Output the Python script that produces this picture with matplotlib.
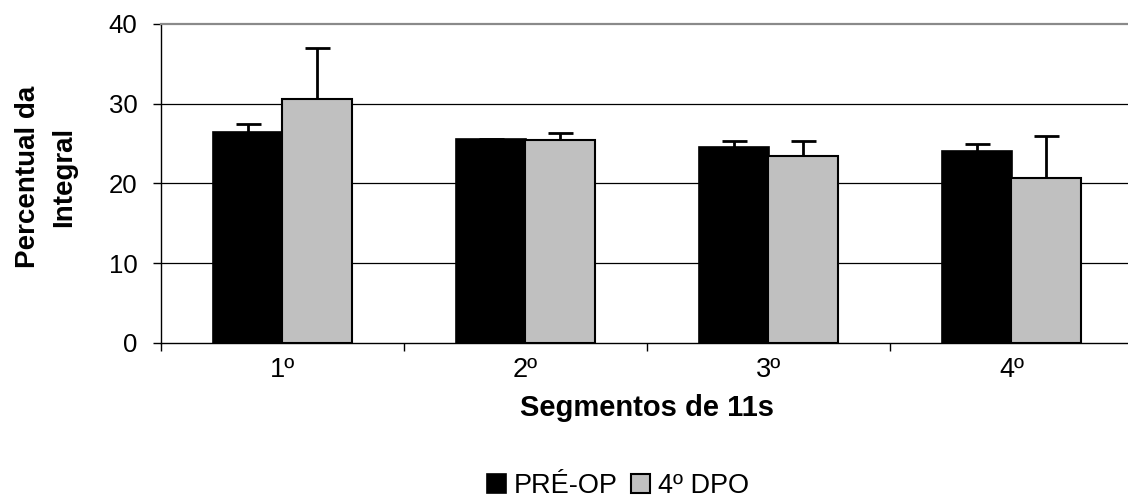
import matplotlib
matplotlib.use("Agg")
import matplotlib.pyplot as plt
import numpy as np
from matplotlib.patches import Patch

plt.rcParams["font.family"] = ["Liberation Sans", "DejaVu Sans"]

# data
segments = ["1º", "2º", "3º", "4º"]
pre_op = [26.4, 25.6, 24.6, 24.1]
pre_op_err = [1.0, 0.0, 0.7, 0.9]
dpo4 = [30.6, 25.45, 23.5, 20.65]
dpo4_err = [6.35, 0.85, 1.8, 5.35]
series_names = ["PRÉ-OP", "4º DPO"]
y_ticks = [0, 10, 20, 30, 40]

fig = plt.figure(figsize=(11.28, 5.03), dpi=100)
ax = fig.add_axes([0.1427, 0.3181, 0.8617, 0.6342])

x = np.arange(1, len(segments) + 1)
w = 0.287
off = 0.143

ax.bar(x - off, pre_op, width=w, color="black", edgecolor="black", linewidth=1.2, zorder=3)
ax.bar(x + off, dpo4, width=w, color="#c0c0c0", edgecolor="black", linewidth=1.5, zorder=3)

# only upper error bars, hide the lower caps
for xs, ys, errs in [(x - off, pre_op, pre_op_err), (x + off, dpo4, dpo4_err)]:
    eb = ax.errorbar(xs, ys, yerr=[np.zeros(len(xs)), errs], fmt="none",
                     ecolor="black", elinewidth=2, capsize=9, capthick=2, zorder=4)
    eb[1][0].set_visible(False)

ax.set_xlim(0.5, len(segments) + 0.5)
ax.set_ylim(0, 40)

ax.set_yticks(y_ticks)
ax.tick_params(axis="y", direction="out", length=6, width=1, pad=11, labelsize=18.5)
ax.set_xticks(x)
ax.set_xticklabels(segments)
ax.tick_params(axis="x", which="major", length=0, pad=10, labelsize=19.5)
ax.set_xticks(np.arange(0.5, len(segments) + 1, 1.0), minor=True)
ax.tick_params(axis="x", which="minor", direction="out", length=6, width=1)

for yv in y_ticks[1:-1]:
    ax.axhline(yv, color="black", linewidth=0.9, zorder=1)

ax.spines["right"].set_visible(False)
ax.spines["top"].set_color("#8a8a8a")
ax.spines["top"].set_linewidth(1.6)
ax.spines["left"].set_linewidth(1.0)
ax.spines["bottom"].set_linewidth(1.0)

ax.set_xlabel("Segmentos de 11s", fontsize=21, fontweight="bold", labelpad=8)
ax.set_ylabel("Percentual da\nIntegral", fontsize=20, fontweight="bold", linespacing=1.5)
ax.yaxis.set_label_coords(-0.086, 0.52)

handles = [Patch(facecolor="black", edgecolor="black", linewidth=1.2),
           Patch(facecolor="#c0c0c0", edgecolor="black", linewidth=1.5)]
fig.legend(handles, series_names, loc="center", bbox_to_anchor=(618 / 1128, 1 - 486 / 503),
           ncol=2, frameon=False, fontsize=19.5, handlelength=0.7, handleheight=0.7,
           handletextpad=0.3, columnspacing=0.5, borderpad=0)

fig.savefig("out.png", dpi=100)
